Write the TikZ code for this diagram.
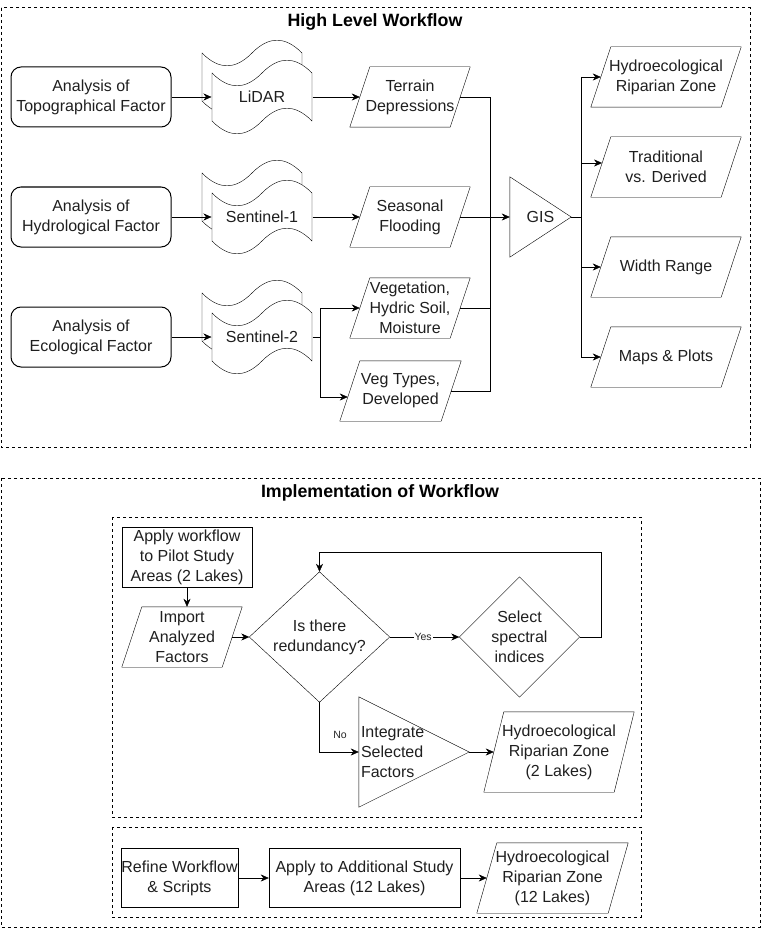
\documentclass[tikz,border=0pt]{standalone}
\usepackage{fontspec}
\setmainfont{Liberation Sans}
\usetikzlibrary{calc,arrows.meta}
\pgfdeclarelayer{background}
\pgfsetlayers{background,main}

\newcommand\drawtape[1]{%
\begin{pgfonlayer}{background}
\foreach \dx/\dy in {-60/-44,-50/-24}{%
\draw[fill=white, shift={($(#1.center)+(\dx,\dy)$)}] (0,0) .. controls (16.7,17) and (33.3,17) .. (50,0) .. controls (66.7,-17) and (83.3,-17) .. (100,0) -- (100,48) .. controls (83.3,31) and (66.7,31) .. (50,48) .. controls (33.3,65) and (16.7,65) .. (0,48) -- cycle;
}
\end{pgfonlayer}}
\newcommand\drawpara[2][20]{%
\draw ($(#2.north west)+(#1,0)$) -- (#2.north east) -- ($(#2.south east)+(-#1,0)$) -- (#2.south west) -- cycle;}
\newcommand\drawtri[1]{\draw (#1.north west) -- (#1.east) -- (#1.south west) -- cycle;}
\newcommand\drawdiam[1]{\draw (#1.north) -- (#1.east) -- (#1.south) -- (#1.west) -- cycle;}

\begin{document}
\begin{tikzpicture}[x=1pt,y=-1pt,line width=1pt,
  txt/.style={inner sep=0pt, align=center, text=black!88, font=\fontsize{16}{20}\selectfont},
  rbox/.style={txt, draw, rounded corners=10pt, minimum width=160pt, minimum height=60pt},
  sbox/.style={txt, draw},
  arr/.style={-{Stealth[length=8pt,width=7pt,inset=2.5pt]}},
  dbox/.style={dash pattern=on 3pt off 3pt},
  ttl/.style={inner sep=0pt, font=\fontsize{17.8}{20}\selectfont\bfseries},
  lab/.style={inner sep=1pt, font=\fontsize{10.5}{12}\selectfont, text=black!85}]

\useasboundingbox (0,0) rectangle (761,928);

% frames
\draw[dbox] (1,8) rectangle (750,447);
\draw[dbox] (1,478) rectangle (760,927);
\draw[dbox] (112,517) rectangle (641,817);
\draw[dbox] (112,827) rectangle (641,917);

\node[ttl] (t1) at (375,22) {High Level Workflow};
\node[ttl] (t2) at (380,493) {Implementation of Workflow};

% analysis boxes
\node[rbox] (topo) at (91,97) {Analysis of\\Topographical Factor};
\node[rbox] (hydro) at (91,217) {Analysis of\\Hydrological Factor};
\node[rbox] (eco) at (91,337) {Analysis of\\Ecological Factor};

% tapes
\node[txt, minimum width=100pt, minimum height=48pt] (lidar) at (262,97) {LiDAR};
\node[txt, minimum width=100pt, minimum height=48pt] (s1) at (262,217) {Sentinel-1};
\node[txt, minimum width=100pt, minimum height=48pt] (s2) at (262,337) {Sentinel-2};
\drawtape{lidar}
\drawtape{s1}
\drawtape{s2}

% derived data
\node[txt, minimum width=120pt, minimum height=60pt] (td) at (410,97) {Terrain\\Depressions};
\node[txt, minimum width=120pt, minimum height=60pt] (sf) at (410,217) {Seasonal\\Flooding};
\node[txt, minimum width=120pt, minimum height=60pt] (veg) at (410,308) {Vegetation,\\Hydric Soil,\\Moisture};
\node[txt, minimum width=121pt, minimum height=60pt] (vt) at (400.5,391) {Veg Types,\\Developed};
\drawpara{td}
\drawpara{sf}
\drawpara{veg}
\drawpara{vt}

% GIS
\node[txt, minimum width=61pt, minimum height=80pt] (gis) at (540.5,217) {GIS};
\drawtri{gis}

% outputs
\node[txt, minimum width=150pt, minimum height=60pt] (hz) at (666,77) {Hydroecological\\Riparian Zone};
\node[txt, minimum width=150pt, minimum height=60pt] (tr) at (666,167) {Traditional\\vs. Derived};
\node[txt, minimum width=150pt, minimum height=60pt] (wr) at (666,267) {Width Range};
\node[txt, minimum width=150pt, minimum height=60pt] (mp) at (666,357) {Maps \& Plots};
\drawpara{hz}
\drawpara{tr}
\drawpara{wr}
\drawpara{mp}

% connectors top
\draw[arr] (topo.east) -- (lidar.west);
\draw[arr] (hydro.east) -- (s1.west);
\draw[arr] (eco.east) -- (s2.west);
\draw[arr] (lidar.east) -- ($(td.west)+(10,0)$);
\draw[arr] (s1.east) -- ($(sf.west)+(10,0)$);
\coordinate (sp) at ($(s2.east)+(8,0)$);
\draw (s2.east) -- (sp);
\draw[arr] (sp) |- ($(veg.west)+(10,0)$);
\draw[arr] (sp) |- ($(vt.west)+(8,6)$);
\coordinate (mx) at (490,0);
\draw ($(td.east)+(-10,0)$) -| (mx |- vt.east) -- ($(vt.east)+(-10,0)$);
\draw ($(veg.east)+(-10,0)$) -- (mx |- veg.east);
\draw[arr] ($(sf.east)+(-10,0)$) -- (gis.west);
\coordinate (ox) at (581,0);
\draw (gis.east) -- (ox |- gis.east);
\draw (ox |- hz.west) -- (ox |- mp.west);
\draw[arr] (ox |- hz.west) -- ($(hz.west)+(10,0)$);
\draw[arr] ($(ox |- tr.west)+(0,-4)$) -- ($(tr.west)+(11.3,-4)$);
\draw[arr] (ox |- wr.west) -- ($(wr.west)+(10,0)$);
\draw[arr] (ox |- mp.west) -- ($(mp.west)+(10,0)$);

% implementation
\node[sbox, minimum width=130pt, minimum height=60pt] (apw) at (187,557) {Apply workflow\\to Pilot Study\\Areas (2 Lakes)};
\node[txt, minimum width=120pt, minimum height=60pt] (imp) at (182,637) {Import\\Analyzed\\Factors};
\drawpara{imp}
\node[txt, minimum width=140pt, minimum height=130pt] (red) at (319.5,637) {Is there\\redundancy?};
\drawdiam{red}
\node[txt, minimum width=120pt, minimum height=120pt] (sel) at (519.5,637) {Select\\spectral\\indices};
\drawdiam{sel}
\node[txt, minimum width=110pt, minimum height=110pt, text width=106pt, align=left] (integ) at (414,752) {Integrate\\Selected\\Factors};
\drawtri{integ}
\node[txt, minimum width=150pt, minimum height=80pt] (hrz2) at (559,752) {Hydroecological\\Riparian Zone\\(2 Lakes)};
\drawpara{hrz2}

\draw[arr] (apw.south) -- (apw.south |- imp.north);
\draw[arr] ($(imp.east)+(-10,0)$) -- (red.west);
\draw[arr] (red.east) -- node[lab, fill=white, pos=0.48] (yes) {Yes} (sel.west);
\draw[arr] (sel.east) -- ++(21,0) |- ($(red.north)+(0,-20)$) -- (red.north);
\draw[arr] (red.south) |- (integ.west);
\node[lab] (no) at (340,735) {No};
\draw[arr] (integ.east) -- ($(hrz2.west)+(10,0)$);

% bottom row
\node[sbox, minimum width=117pt, minimum height=59pt] (ref) at (179.5,878) {Refine Workflow\\\& Scripts};
\node[sbox, minimum width=191pt, minimum height=59pt] (app) at (364.5,878) {Apply to Additional Study\\Areas (12 Lakes)};
\node[txt, minimum width=151pt, minimum height=70pt] (hrz3) at (552.5,878) {Hydroecological\\Riparian Zone\\(12 Lakes)};
\drawpara{hrz3}
\draw[arr] (ref.east) -- (app.west);
\draw[arr] (app.east) -- ($(hrz3.west)+(10,0)$);
\end{tikzpicture}
\end{document}
